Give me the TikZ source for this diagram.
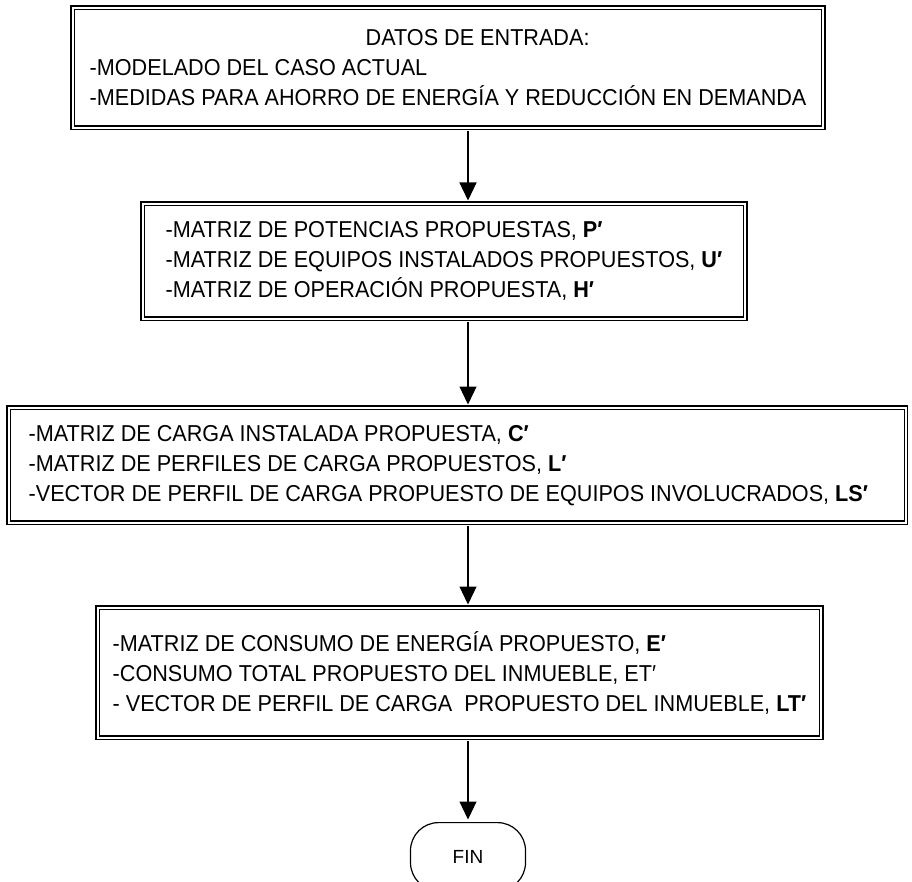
\documentclass[tikz,border=0pt]{standalone}
\usepackage{fontspec}
\setmainfont{Liberation Sans}[FakeStretch=0.94]
\newfontfamily\finfont{Liberation Sans}
\usetikzlibrary{arrows.meta}
\tikzset{
  dbox/.style={draw, double, double distance=2pt, line width=1.4pt, anchor=north west,
    align=left, inner ysep=0pt, font=\fontsize{23}{30}\selectfont},
  flow/.style={-{Triangle[length=18pt,width=17pt]}, line width=1.2pt, shorten >=2.5pt, shorten <=2.5pt},
  term/.style={draw, rounded corners=28pt, line width=1.2pt, minimum width=115pt,
    minimum height=68pt, anchor=north, font=\finfont\fontsize{19}{22}\selectfont}
}
\begin{document}
\begin{tikzpicture}[x=1pt,y=-1pt]
\useasboundingbox (0,0) rectangle (912,882);
\node[dbox, minimum height=120pt, inner xsep=17pt] (b1) at (72,7)
  {\hspace*{276pt}DATOS DE ENTRADA:\\-MODELADO DEL CASO ACTUAL\\-MEDIDAS PARA AHORRO DE ENERGÍA Y REDUCCIÓN EN DEMANDA};
\node[dbox, minimum height=115pt, inner xsep=23pt] (b2) at (142,203)
  {-MATRIZ DE POTENCIAS PROPUESTAS, \textbf{P′}\\-MATRIZ DE EQUIPOS INSTALADOS PROPUESTOS, \textbf{U′}\\-MATRIZ DE OPERACIÓN PROPUESTA, \textbf{H′}};
\node[dbox, minimum height=115pt, inner xsep=20pt] (b3) at (8,407)
  {-MATRIZ DE CARGA INSTALADA PROPUESTA, \textbf{C′}\\-MATRIZ DE PERFILES DE CARGA PROPUESTOS, \textbf{L′}\\-VECTOR DE PERFIL DE CARGA PROPUESTO DE EQUIPOS INVOLUCRADOS, \textbf{LS′}\rule{18pt}{0pt}};
\node[dbox, minimum height=130pt, inner xsep=15pt] (b4) at (97,607)
  {-MATRIZ DE CONSUMO DE ENERGÍA PROPUESTO, \textbf{E′}\\-CONSUMO TOTAL PROPUESTO DEL INMUEBLE, ET′\\- VECTOR DE PERFIL DE CARGA\ \ PROPUESTO DEL INMUEBLE, \textbf{LT′}};
\node[term] (fin) at (468,822) {FIN};
\coordinate (ax) at (468,0);
\draw[flow] (b1.south -| ax) -- (b2.north -| ax);
\draw[flow] (b2.south -| ax) -- (b3.north -| ax);
\draw[flow] (b3.south -| ax) -- (b4.north -| ax);
\draw[flow] (b4.south -| ax) -- (fin.north);
\end{tikzpicture}
\end{document}
